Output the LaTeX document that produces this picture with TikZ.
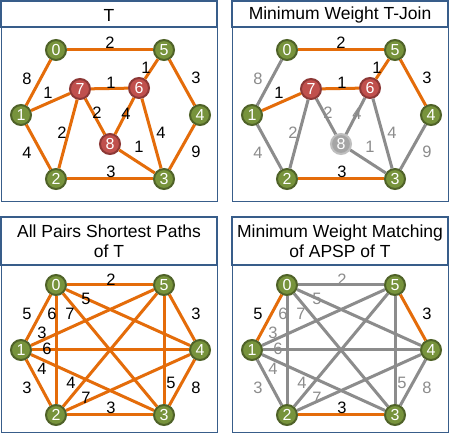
\documentclass[tikz,border=0pt]{standalone}
\usepackage{fontspec}
\setmainfont{Liberation Sans}

\definecolor{edgeorange}{HTML}{E46C0A}
\definecolor{edgegray}{HTML}{8C8C8C}
\definecolor{nodegreen}{HTML}{77933C}
\definecolor{greenrim}{HTML}{4F6228}
\definecolor{nodered}{HTML}{C0504D}
\definecolor{redrim}{HTML}{8C3836}
\definecolor{nodegray}{HTML}{A5A5A5}
\definecolor{grayrim}{HTML}{BFBFBF}
\definecolor{boxblue}{HTML}{385D8A}

\tikzset{
  vert/.style={circle, minimum size=20pt, inner sep=0pt, line width=2pt, text=white,
    font=\fontsize{16}{16}\selectfont},
  gvert/.style={vert, fill=nodegreen, draw=greenrim},
  rvert/.style={vert, fill=nodered, draw=redrim},
  xvert/.style={vert, fill=nodegray, draw=grayrim},
  used/.style={edgeorange, line width=3pt},
  unused/.style={edgegray, line width=3pt},
  wt/.style={font=\fontsize{16.5}{16.5}\selectfont, inner sep=0pt},
  gwt/.style={wt, text=edgegray},
  titlebox/.style={draw=boxblue, line width=2pt},
  bodybox/.style={draw=boxblue, line width=1pt},
  ttl/.style={align=center, font=\fontsize{17.5}{20}\selectfont, inner sep=0pt},
}

\begin{document}
\begin{tikzpicture}[x=1pt, y=-1pt]
  \useasboundingbox[fill=white] (0,0) rectangle (450,435);

  % T
  \begin{scope}[name prefix=p1-]
    \draw[titlebox] (1,1) rectangle (217,27);
    \draw[bodybox] (1,27) rectangle (217,202);
    \node[ttl] (title) at (109,15) {T};
    \foreach \n/\x/\y in {0/56/50, 5/164/50, 1/21/115, 4/200/115, 2/56/179, 3/164/179}
      \node[gvert] (\n) at (\x,\y) {\n};
    \foreach \n/\x/\y in {7/80/89, 6/139/88, 8/110/144}
      \node[rvert] (\n) at (\x,\y) {\n};
    \foreach \a/\b in {0/5, 0/1, 1/7, 7/6, 6/5, 5/4, 7/8, 8/6, 7/2, 1/2, 8/3, 6/3, 4/3, 2/3}
      \draw[used] (\a) -- (\b);
    \foreach \t/\x/\y/\n in {2/110/43/05, 8/27/79/01, 1/48/93/17, 1/111/83/76, 1/146/68/65,
        3/196/78/54, 2/97/113/78, 4/126/114/86, 2/62/133/72, 4/27/153/12, 1/139/147/83,
        4/161/133/63, 9/196/152/43, 3/111/172/23}
      \node[wt] (w\n) at (\x,\y) {\t};
  \end{scope}

  % Minimum Weight T-Join
  \begin{scope}[shift={(231,0)}, name prefix=p2-]
    \draw[titlebox] (1,1) rectangle (217,27);
    \draw[bodybox] (1,27) rectangle (217,202);
    \node[ttl] (title) at (109,15) {Minimum Weight T-Join};
    \foreach \n/\x/\y in {0/56/50, 5/164/50, 1/21/115, 4/200/115, 2/56/179, 3/164/179}
      \node[gvert] (\n) at (\x,\y) {\n};
    \foreach \n/\x/\y in {7/80/89, 6/139/88}
      \node[rvert] (\n) at (\x,\y) {\n};
    \node[xvert] (8) at (110,144) {8};
    \foreach \a/\b in {0/1, 7/8, 8/6, 7/2, 1/2, 8/3, 6/3, 4/3}
      \draw[unused] (\a) -- (\b);
    \foreach \a/\b in {0/5, 1/7, 7/6, 6/5, 5/4, 2/3}
      \draw[used] (\a) -- (\b);
    \foreach \t/\x/\y/\n in {2/110/43/05, 1/48/93/17, 1/111/83/76, 1/146/68/65,
        3/196/78/54, 3/111/172/23}
      \node[wt] (w\n) at (\x,\y) {\t};
    \foreach \t/\x/\y/\n in {8/27/79/01, 2/97/113/78, 4/126/114/86, 2/62/133/72,
        4/27/153/12, 1/139/147/83, 4/161/133/63, 9/196/152/43}
      \node[gwt] (w\n) at (\x,\y) {\t};
  \end{scope}

  % All Pairs Shortest Paths of T
  \begin{scope}[name prefix=p3-]
    \draw[titlebox] (1,217) rectangle (217,265);
    \draw[bodybox] (1,265) rectangle (217,433);
    \node[ttl] (title) at (109,241) {All Pairs Shortest Paths\\of T};
    \foreach \n/\x/\y in {0/56/285, 5/164/285, 1/21/350, 4/200/350, 2/56/415, 3/164/415}
      \node[gvert] (\n) at (\x,\y) {\n};
    \foreach \a/\b in {0/5, 0/4, 0/1, 0/2, 0/3, 5/4, 5/1, 5/2, 5/3, 1/4, 1/3, 1/2, 2/4, 2/3, 4/3}
      \draw[used] (\a) -- (\b);
    \foreach \t/\x/\y/\n in {2/111/280/05, 5/86/299/04, 5/27/314/01, 6/52/314/02, 7/70/314/03,
        3/196/314/54, 3/42/333/15, 6/47/349/14, 4/42/369/13, 3/27/388/12, 4/71/383/25,
        7/86/398/24, 3/111/408/23, 5/171/383/53, 8/196/388/43}
      \node[wt] (w\n) at (\x,\y) {\t};
  \end{scope}

  % Minimum Weight Matching of APSP of T
  \begin{scope}[shift={(231,0)}, name prefix=p4-]
    \draw[titlebox] (1,217) rectangle (217,265);
    \draw[bodybox] (1,265) rectangle (217,433);
    \node[ttl] (title) at (109,241) {Minimum Weight Matching\\of APSP of T};
    \foreach \n/\x/\y in {0/56/285, 5/164/285, 1/21/350, 4/200/350, 2/56/415, 3/164/415}
      \node[gvert] (\n) at (\x,\y) {\n};
    \foreach \a/\b in {0/5, 0/4, 0/2, 0/3, 5/1, 5/2, 5/3, 1/4, 1/3, 1/2, 2/4, 4/3}
      \draw[unused] (\a) -- (\b);
    \foreach \a/\b in {0/1, 5/4, 2/3}
      \draw[used] (\a) -- (\b);
    \foreach \t/\x/\y/\n in {5/27/314/01, 3/196/314/54, 3/111/408/23}
      \node[wt] (w\n) at (\x,\y) {\t};
    \foreach \t/\x/\y/\n in {2/111/280/05, 5/86/299/04, 6/52/314/02, 7/70/314/03,
        3/42/333/15, 6/47/349/14, 4/42/369/13, 3/27/388/12, 4/71/383/25,
        7/86/398/24, 5/171/383/53, 8/196/388/43}
      \node[gwt] (w\n) at (\x,\y) {\t};
  \end{scope}
\end{tikzpicture}
\end{document}
